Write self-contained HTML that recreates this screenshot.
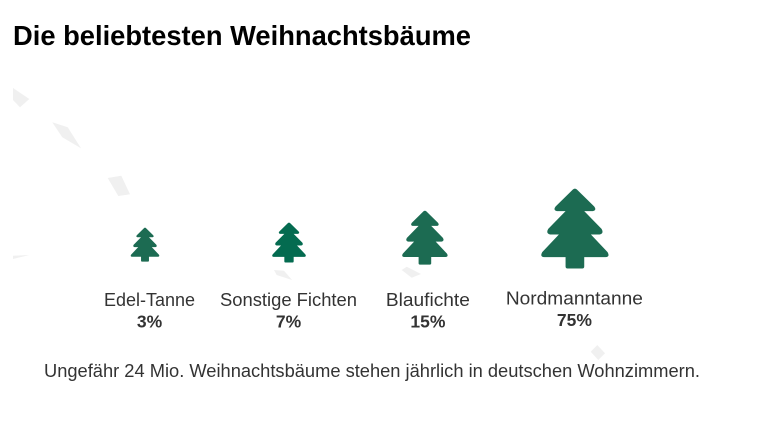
<!DOCTYPE html>
<html lang="de">
<head>
<meta charset="utf-8">
<title>Die beliebtesten Weihnachtsbäume</title>
<style>
  html, body { margin: 0; padding: 0; background: #fff; }
  svg { display: block; font-family: "Liberation Sans", sans-serif; }
</style>
</head>
<body>
<svg id="chart" width="768" height="432" viewBox="0 0 768 432" xmlns="http://www.w3.org/2000/svg">
  <rect width="768" height="432" fill="#ffffff"/>
  <g fill="#f0f0f0">
    <polygon points="13,88 29.3,99 20,107.3 13,100"/>
    <polygon points="52.3,122.3 67.7,127.3 81,148.3 62.3,137.3"/>
    <polygon points="107.7,178 121.3,175.7 130,194.3 118.3,196"/>
    <polygon points="13,255.7 29.3,255 13,259"/>
    <polygon points="274,270 284,270.7 292,280 276.7,275"/>
    <polygon points="401.7,270 406.7,266.7 421,274 411.7,277.7"/>
    <polygon points="590.7,351.7 597.3,345 605,353.3 598.3,360"/>
  </g>
  <text x="13" y="45" font-size="28" font-weight="700" fill="#000000" textLength="458" lengthAdjust="spacingAndGlyphs">Die beliebtesten Weihnachtsbäume</text>
  <g id="marks"></g>
  <text x="44" y="377" font-size="18" fill="#333333" textLength="656" lengthAdjust="spacingAndGlyphs">Ungefähr 24 Mio. Weihnachtsbäume stehen jährlich in deutschen Wohnzimmern.</text>
</svg>
<script>
const categories = ['Edel-Tanne', 'Sonstige Fichten', 'Blaufichte', 'Nordmanntanne'];
const shares = [3, 7, 15, 75];
const valueSuffix = '%';

// Layout settings (not data)
const sizeStops = { domain: [3, 7, 15, 75], range: [34, 40, 54, 80] };
const slot = { start: 145, step: 143.3 };
const treeNudge = { 'Edel-Tanne': 0, 'Sonstige Fichten': 0.7, 'Blaufichte': -6.7, 'Nordmanntanne': 0 };
const labelNudge = { 'Edel-Tanne': 4.5, 'Sonstige Fichten': 0.2, 'Blaufichte': -3.7, 'Nordmanntanne': -0.5 };
const labelRaise = { 'Edel-Tanne': 0, 'Sonstige Fichten': 0, 'Blaufichte': 0, 'Nordmanntanne': 1.5 };
const labelWidth = { 'Edel-Tanne': 91, 'Sonstige Fichten': 137, 'Blaufichte': 84, 'Nordmanntanne': 137 };
const treeColor = { 'Sonstige Fichten': '#046b50' };
const treePath = 'M-6,3 Q0,-2 6,3 L58,54 Q66,65 54,68 L28,68 L80,121 Q88,135 74,138 L48,138 L98,191 Q106,205 92,206 L28,206 L28,234 Q28,240 22,240 L-22,240 Q-28,240 -28,234 L-28,206 L-92,206 Q-106,205 -98,191 L-48,138 L-74,138 Q-88,135 -80,121 L-28,68 L-54,68 Q-66,65 -58,54 Z';
const treeUnitHeight = 240;

function xScale(i) { return slot.start + slot.step * i; }

function heightScale(v) {
  const d = sizeStops.domain, r = sizeStops.range;
  let k = 0;
  while (k < d.length - 2 && v > d[k + 1]) k++;
  return r[k] + (v - d[k]) * (r[k + 1] - r[k]) / (d[k + 1] - d[k]);
}

function baseY(h) { return 256.5 + 0.15 * h; }

const NS = 'http://www.w3.org/2000/svg';
const marks = document.getElementById('marks');

categories.forEach(function (name, i) {
  const h = heightScale(shares[i]);
  const s = h / treeUnitHeight;
  const cx = xScale(i) + treeNudge[name];
  const lx = xScale(i) + labelNudge[name];
  const raise = labelRaise[name];

  const tree = document.createElementNS(NS, 'path');
  
  
  tree.setAttribute('d', treePath);
  tree.setAttribute('fill', treeColor[name] || '#1c6b52');
  tree.setAttribute('transform', 'translate(' + cx + ',' + (baseY(h) - h) + ') scale(' + s + ')');
  marks.appendChild(tree);

  const label = document.createElementNS(NS, 'text');
  
  
  label.setAttribute('x', lx);
  label.setAttribute('y', 306 - raise);
  label.setAttribute('font-size', '18');
  label.setAttribute('fill', '#333333');
  label.setAttribute('text-anchor', 'middle');
  label.setAttribute('textLength', labelWidth[name]);
  label.setAttribute('lengthAdjust', 'spacingAndGlyphs');
  label.textContent = name;
  marks.appendChild(label);

  const pct = document.createElementNS(NS, 'text');
  
  
  pct.setAttribute('x', lx);
  pct.setAttribute('y', 327.5 - raise);
  pct.setAttribute('font-size', '17.5');
  pct.setAttribute('font-weight', '700');
  pct.setAttribute('fill', '#333333');
  pct.setAttribute('text-anchor', 'middle');
  pct.textContent = shares[i] + valueSuffix;
  marks.appendChild(pct);
});
</script>
</body>
</html>
